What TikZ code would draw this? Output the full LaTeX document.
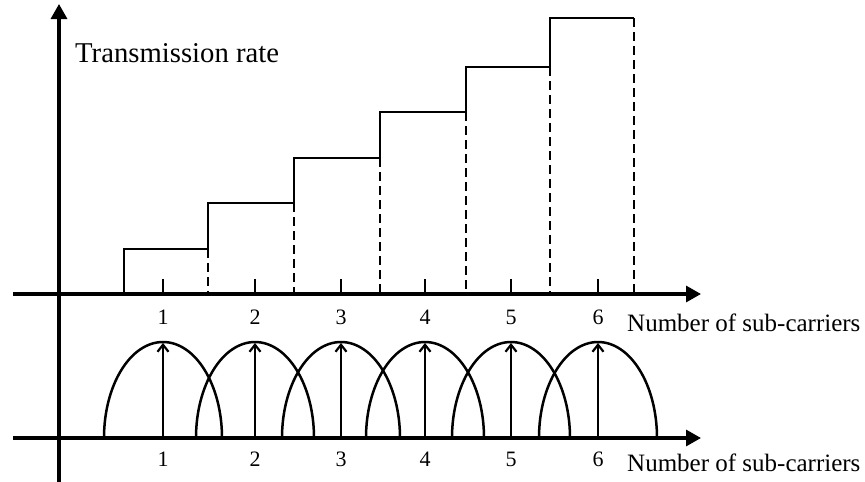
\documentclass[tikz,border=0pt]{standalone}
\usepackage{fontspec}
\setmainfont{Liberation Serif}
\usetikzlibrary{arrows.meta,calc}
\begin{document}
\begin{tikzpicture}[x=1pt,y=-1pt,
  axis/.style={line width=3.3pt,-{Triangle[length=15pt,width=16pt]}},
  stair/.style={line width=2.8pt},
  dashln/.style={line width=2.8pt,dash pattern=on 9pt off 5pt},
  arch/.style={line width=2.5pt},
  carrier/.style={line width=2.2pt,-{Straight Barb[length=7pt,width=11pt]}},
  num/.style={font=\fontsize{22}{26}\selectfont,inner sep=0pt},
  lbl/.style={font=\fontsize{25}{30}\selectfont,anchor=west,inner sep=0pt}]
\useasboundingbox (0,0) rectangle (865,482);
% axes
\coordinate (yb) at (59,482);
\coordinate (yt) at (59,4);
\coordinate (ua0) at (13,294);
\coordinate (ua1) at (701,294);
\coordinate (la0) at (13,438);
\coordinate (la1) at (701,438);
\draw[axis] (yb) -- (yt);
\draw[axis] (ua0) -- (ua1);
\draw[axis] (la0) -- (la1);
% labels
\node[lbl,font=\fontsize{28.7}{32}\selectfont] (title) at (75,53) {Transmission rate};
\node[lbl] (xlu) at (627,323) {Number of sub-carriers};
\node[lbl] (xll) at (627,463) {Number of sub-carriers};
% ticks, numbers, carriers
\foreach \i/\x in {1/163,2/255,3/341,4/425,5/511,6/598}{
  \coordinate (t\i) at (\x,294);
  \coordinate (tt\i) at (\x,279);
  \draw[stair] (t\i) -- (tt\i);
  \node[num] (nu\i) at (\x,317) {\i};
  \node[num] (nl\i) at (\x,459) {\i};
  \coordinate (c\i) at (\x,438);
  \coordinate (p\i) at (\x,343);
  \draw[arch] ($(c\i)+(-59,0)$) arc[start angle=180,end angle=0,x radius=59pt,y radius=96pt];
  \draw[carrier] (c\i) -- (p\i);
}
% staircase
\draw[stair] (124,294) -- (124,249) -- (208,249) -- (208,203) -- (294,203) -- (294,158)
  -- (380,158) -- (380,112) -- (466,112) -- (466,67) -- (550,67) -- (550,18) -- (634,18);
\foreach \x/\y in {208/249,294/203,380/158,466/112,550/67,634/18}{
  \draw[dashln] (\x,\y) -- (\x,294);
}
\end{tikzpicture}
\end{document}
